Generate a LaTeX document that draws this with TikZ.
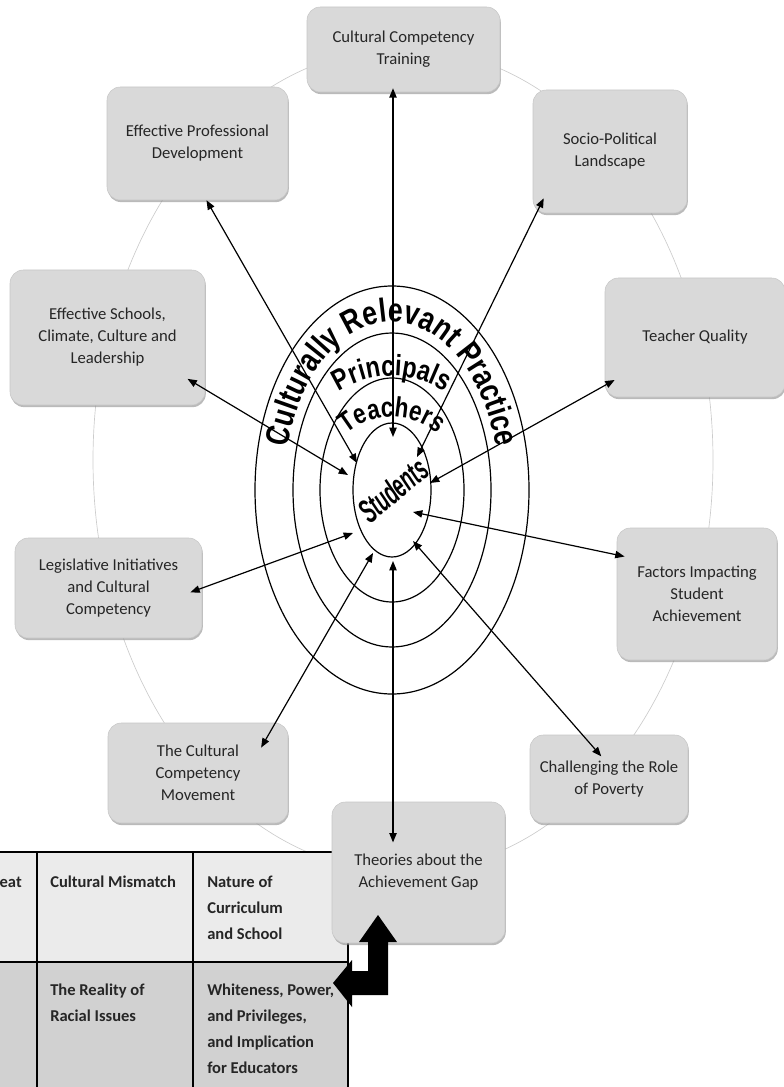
\documentclass[tikz,border=0pt]{standalone}
\usepackage{fontspec}
\setmainfont{Carlito}
\newfontfamily\arcfont[FakeStretch=0.8]{Liberation Sans}
\newfontfamily\arialfont{Liberation Sans}
\usetikzlibrary{arrows.meta,shadows,decorations.text}

\begin{document}
\begin{tikzpicture}[x=0.75pt,y=-0.75pt,line cap=round,line join=round,
  topic/.style={rectangle,rounded corners=10pt,fill=black!15,draw=black!22,line width=0.4pt,
    drop shadow={shadow xshift=0.6pt,shadow yshift=-1.6pt,fill=black!45,opacity=0.6},
    align=center,text=black!85,font=\fontsize{12.5}{16.5}\selectfont,inner sep=0pt},
  wh/.style 2 args={minimum width=#1*0.75pt,minimum height=#2*0.75pt},
  link/.style={{Triangle[length=7pt,width=5.5pt]}-{Triangle[length=7pt,width=5.5pt]},line width=0.9pt},
  ring/.style={line width=0.9pt},
  cell/.style={anchor=north west,inner sep=0pt,align=left,text=black!85,
    font=\bfseries\fontsize{12.4}{19.5}\selectfont}]
\useasboundingbox (0,0) rectangle (783,1087);

\draw[black!20,line width=0.5pt] (403,460) ellipse [x radius=310,y radius=412];

\fill[black!8] (0,852) rectangle (348,962);
\fill[black!18] (0,962) rectangle (348,1087);
\draw[line width=0.9pt] (0,852) -- (348,852) (0,962) -- (348,962)
  (37,852) -- (37,1087) (193,852) -- (193,1087) (348,852) -- (348,1087);
\node[cell,anchor=north east] (tb-eat) at (22,869) {\strut eat};
\node[cell] (tb-cm) at (50,869) {\strut Cultural Mismatch};
\node[cell] (tb-nc) at (207,869) {\strut Nature of\\Curriculum\\and School};
\node[cell] (tb-rr) at (50,977) {\strut The Reality of\\Racial Issues};
\node[cell] (tb-wp) at (207,977) {\strut Whiteness, Power,\\and Privileges,\\and Implication\\for Educators};

\node[topic,wh={193}{85}] (cct) at (403.5,49.5) {Cultural Competency\\Training};
\node[topic,wh={181}{113}] (epd) at (197.5,143.5) {Effective Professional\\Development};
\node[topic,wh={154}{123}] (spl) at (610,151.5) {Socio-Political\\Landscape};
\node[topic,wh={195}{135}] (esc) at (107.5,337.5) {Effective Schools,\\Climate, Culture and\\Leadership};
\node[topic,wh={180}{119}] (tq) at (695,337.5) {Teacher Quality};
\node[topic,wh={187}{100}] (lic) at (108.5,588) {Legislative Initiatives\\and Cultural\\Competency};
\node[topic,wh={160}{132}] (fisa) at (697,594) {Factors Impacting\\Student\\Achievement};
\node[topic,wh={180}{100}] (ccm) at (198,773) {The Cultural\\Competency\\Movement};
\node[topic,wh={158}{88}] (crp) at (609,779) {Challenging the Role\\of Poverty};
\node[topic,wh={173}{141}] (tag) at (418.5,872.5) {Theories about the\\Achievement Gap};

\coordinate (ctr) at (392,490);
\draw[ring] (ctr) ellipse [x radius=39,y radius=67];
\draw[ring] (ctr) ellipse [x radius=72,y radius=112];
\draw[ring] (ctr) ellipse [x radius=99,y radius=157];
\draw[ring] (ctr) ellipse [x radius=137,y radius=204];

\path[decorate,decoration={text along path,text align=center,
  text={|\arcfont\bfseries\fontsize{25}{25}\selectfont|Culturally Relevant Practice}}]
  (284,490) arc [start angle=180,end angle=360,x radius=108,y radius=168];
\path[decorate,decoration={text along path,text align=center,
  text={|\arcfont\bfseries\fontsize{22}{22}\selectfont|Principals}}]
  (294,474) arc [start angle=180,end angle=360,radius=98];
\path[decorate,decoration={text along path,text align=center,
  text={|\arcfont\bfseries\fontsize{21}{21}\selectfont|Teachers}}]
  (322,487) arc [start angle=180,end angle=360,radius=70];
\node[font=\arialfont\bfseries\itshape\fontsize{25}{25}\selectfont,rotate=40,xscale=0.56,inner sep=0pt] (stu) at (393,490) {Students};

\coordinate (in-cct) at (393,437);
\coordinate (in-epd) at (357,463);
\coordinate (in-spl) at (417,457);
\coordinate (in-esc) at (348,475);
\coordinate (in-tq) at (430,483);
\coordinate (in-lic) at (353,533);
\coordinate (in-fisa) at (413,512);
\coordinate (in-ccm) at (373,553);
\coordinate (in-crp) at (413,541);
\coordinate (in-tag) at (393,561);

\draw[link,shorten <=-3pt] (cct.south -| in-cct) -- (in-cct);
\draw[link] (epd.279) -- (in-epd);
\draw[link,shorten <=-12.5pt] (spl.220) -- (in-spl);
\draw[link,shorten <=-15.5pt] (esc.-28) -- (in-esc);
\draw[link,shorten <=-8.5pt] (tq.208) -- (in-tq);
\draw[link,shorten <=-9.5pt] (lic.east) -- (in-lic);
\draw[link,shorten <=-6pt] (fisa.154) -- (in-fisa);
\draw[link,shorten <=-21.5pt] (ccm.33) -- (in-ccm);
\draw[link,shorten <=-21.5pt] (crp.121) -- (in-crp);
\draw[link,shorten <=-30.5pt] (tag.north -| in-tag) -- (in-tag);

\fill (378,915) -- (397,942) -- (388,942) -- (388,995) -- (352,995) -- (352,1007) -- (333,983)
  -- (352,960) -- (352,971) -- (368,971) -- (368,942) -- (359,942) -- cycle;
\end{tikzpicture}
\end{document}
